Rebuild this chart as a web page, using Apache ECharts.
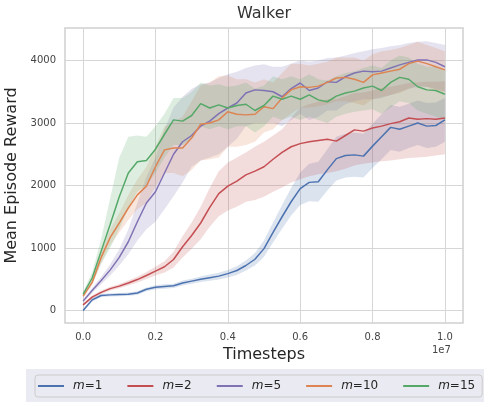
<!DOCTYPE html>
<html>
<head>
<meta charset="utf-8">
<script src="https://cdn.jsdelivr.net/npm/echarts@6/dist/echarts.min.js"></script>
<style>
  html, body { margin: 0; padding: 0; background: #fff; }
  #chart { width: 484px; height: 402px; }
</style>
</head>
<body>
<div id="chart"></div>
<script>
// x positions in units of 1e6 timesteps
const xSteps = [0,0.25,0.5,0.75,1,1.25,1.5,1.75,2,2.25,2.5,2.75,3,3.25,3.5,3.75,4,4.25,4.5,4.75,5,5.25,5.5,5.75,6,6.25,6.5,6.75,7,7.25,7.5,7.75,8,8.25,8.5,8.75,9,9.25,9.5,9.75,10];

// m=1
const m1Mean = [0,170,240,250,255,260,280,340,373,385,395,440,470,500,525,550,590,640,720,820,990,1250,1500,1740,1950,2050,2060,2250,2430,2480,2490,2470,2630,2780,2930,2900,2950,3000,2950,2960,3050];
const m1Low  = [-20,140,215,225,230,235,250,310,340,350,360,400,430,455,475,495,530,570,640,720,860,1090,1310,1520,1690,1750,1740,1920,2080,2130,2140,2130,2280,2420,2570,2540,2600,2650,2600,2620,2700];
const m1High = [20,200,265,275,280,290,310,370,405,420,430,480,510,545,575,605,650,710,800,920,1120,1410,1690,1960,2210,2350,2380,2580,2780,2830,2850,2830,2990,3140,3290,3260,3310,3360,3320,3330,3400];

// m=2
const m2Mean = [90,215,290,350,390,440,495,560,630,700,816,1020,1200,1400,1650,1870,1990,2070,2170,2230,2300,2420,2530,2620,2670,2700,2720,2740,2710,2800,2890,2870,2920,2950,2990,3020,3080,3060,3070,3060,3080];
const m2Low  = [70,190,260,320,355,400,450,505,560,610,690,850,990,1140,1340,1510,1600,1660,1740,1770,1820,1900,1970,2050,2100,2150,2180,2200,2230,2270,2320,2350,2370,2390,2400,2420,2440,2450,2460,2480,2500];
const m2High = [110,240,320,380,425,480,540,615,700,790,940,1190,1410,1660,1960,2230,2370,2450,2530,2620,2700,2800,2900,3080,3250,3300,3340,3380,3380,3430,3480,3490,3520,3560,3580,3610,3640,3650,3660,3660,3670];

// m=5
const m5Mean = [150,320,480,650,850,1100,1420,1720,1900,2200,2500,2700,2800,2950,3030,3150,3240,3320,3480,3530,3520,3500,3420,3550,3640,3520,3560,3660,3650,3740,3800,3830,3820,3830,3880,3930,3970,4010,4010,3970,3900];
const m5Low  = [120,280,420,560,720,900,1120,1300,1420,1620,1830,2050,2300,2400,2450,2500,2620,2750,2950,3000,3000,3000,2950,3050,3150,3050,3100,3200,3200,3300,3350,3380,3380,3400,3450,3500,3550,3580,3580,3550,3500];
const m5High = [180,360,540,740,980,1300,1720,2140,2450,2900,3250,3420,3550,3620,3650,3720,3780,3820,3880,3920,3940,3900,3900,3950,4000,3980,4000,4040,4050,4080,4120,4150,4180,4200,4230,4250,4280,4300,4310,4280,4250];

// m=10
const m10Mean = [230,450,850,1170,1400,1640,1850,1990,2300,2570,2600,2600,2760,2980,3000,3050,3180,3140,3130,3140,3260,3230,3400,3530,3580,3570,3590,3650,3720,3730,3700,3650,3770,3800,3830,3860,3950,3990,3950,3900,3850];
const m10Low  = [200,400,760,1050,1250,1450,1620,1720,1980,2200,2200,2150,2250,2400,2420,2450,2620,2620,2650,2700,2850,2900,3050,3150,3250,3250,3270,3300,3350,3350,3320,3280,3380,3420,3450,3480,3550,3600,3580,3530,3500];
const m10High = [260,500,940,1300,1560,1850,2100,2300,2620,2950,3020,3100,3350,3600,3650,3750,3760,3700,3700,3650,3700,3650,3800,3950,3950,3920,3950,3980,4050,4050,4050,4000,4100,4150,4170,4200,4250,4300,4250,4200,4150];

// m=15
const m15Mean = [260,520,950,1380,1820,2200,2380,2400,2580,2820,3050,3030,3120,3310,3240,3290,3240,3280,3300,3200,3280,3430,3380,3430,3380,3450,3370,3340,3430,3480,3510,3560,3590,3520,3650,3730,3700,3580,3530,3520,3460];
const m15Low  = [220,430,750,1000,1300,1650,1900,2000,2200,2450,2650,2650,2750,2950,2900,2950,2900,2950,2950,2850,2950,3100,3050,3100,3050,3100,3050,3000,3100,3150,3180,3200,3220,3150,3250,3350,3320,3200,3150,3100,3050];
const m15High = [300,610,1150,1800,2450,2780,2800,2780,2950,3150,3400,3400,3500,3650,3600,3620,3580,3600,3650,3550,3600,3750,3700,3750,3700,3780,3700,3680,3750,3800,3830,3880,3920,3880,4000,4080,4050,3950,3900,3900,3850];

const seriesNames = ['m=1', 'm=2', 'm=5', 'm=10', 'm=15'];
const seriesColors = ['#4C72B0', '#C44E52', '#8172B3', '#DD8452', '#55A868'];
const means = [m1Mean, m2Mean, m5Mean, m10Mean, m15Mean];
const lows = [m1Low, m2Low, m5Low, m10Low, m15Low];
const highs = [m1High, m2High, m5High, m10High, m15High];

const chart = echarts.init(document.getElementById('chart'));
const FONT = 'DejaVu Sans';

function hexToRgba(hex, a) {
  const n = parseInt(hex.slice(1), 16);
  return 'rgba(' + (n >> 16) + ',' + ((n >> 8) & 255) + ',' + (n & 255) + ',' + a + ')';
}

// shaded band: one polygon per series, drawn through the axes
function bandSeries(i) {
  const lo = lows[i], hi = highs[i];
  return {
    type: 'custom',
    name: seriesNames[i] + ' band',
    silent: true,
    z: 1,
    data: xSteps.map((x, k) => [x * 1e6, lo[k], hi[k]]),
    encode: { x: 0, y: [1, 2] },
    renderItem: function (params, api) {
      if (params.dataIndex !== 0) return;
      const pts = [];
      for (let k = 0; k < xSteps.length; k++) pts.push(api.coord([xSteps[k] * 1e6, hi[k]]));
      for (let k = xSteps.length - 1; k >= 0; k--) pts.push(api.coord([xSteps[k] * 1e6, lo[k]]));
      return {
        type: 'polygon',
        shape: { points: pts },
        style: { fill: hexToRgba(seriesColors[i], 0.2), stroke: null }
      };
    }
  };
}

function lineSeries(i) {
  return {
    type: 'line',
    name: seriesNames[i],
    data: xSteps.map((x, k) => [x * 1e6, means[i][k]]),
    symbol: 'none',
    z: 3,
    color: seriesColors[i],
    lineStyle: { width: 1.5, color: seriesColors[i] }
  };
}

const series = [];
for (let i = 0; i < 5; i++) series.push(bandSeries(i));
for (let i = 0; i < 5; i++) series.push(lineSeries(i));

const HIDE = 'rgba(0,0,0,0)';
const GRID = '#d6d6d6';

chart.setOption({
  animation: false,
  backgroundColor: '#fff',
  textStyle: { fontFamily: FONT },
  title: [
    {
      text: 'Walker', left: 264, top: 6, textAlign: 'center', padding: 0,
      textStyle: { fontFamily: FONT, fontSize: 16, fontWeight: 'normal', color: '#333' }
    },
    {
      text: '1e7', left: 432, top: 345, padding: 0,
      textStyle: { fontFamily: FONT, fontSize: 10, fontWeight: 'normal', color: '#444' }
    }
  ],
  graphic: [
    { type: 'rect', left: 26, top: 369, shape: { width: 458, height: 33 }, style: { fill: '#EAEAF2' }, z: -1 }
  ],
  legend: {
    data: seriesNames,
    left: 35, top: 375,
    padding: [5, 7, 5, 3],
    itemGap: 25, itemWidth: 26, itemHeight: 2,
    icon: 'rect',
    backgroundColor: '#EAEAF2',
    borderColor: '#cccccc', borderWidth: 1, borderRadius: 3,
    formatter: name => '{it|m}{n|' + name.slice(1) + '}',
    textStyle: {
      fontFamily: FONT, fontSize: 12, color: '#262626',
      rich: {
        it: { fontFamily: FONT, fontSize: 12, fontStyle: 'italic', color: '#262626', padding: [0, 0, 0, 4] },
        n: { fontFamily: FONT, fontSize: 12, color: '#262626' }
      }
    }
  },
  grid: {
    left: 65, right: 21, top: 28, bottom: 79,
    containLabel: false, outerBoundsMode: 'none',
    show: true, borderColor: '#d0d0d0', borderWidth: 1.5, backgroundColor: '#fff'
  },
  xAxis: {
    type: 'value',
    min: -500000, max: 10500000, interval: 500000,
    name: 'Timesteps', nameLocation: 'middle', nameGap: 22,
    nameTextStyle: { fontFamily: FONT, fontSize: 16, color: '#262626' },
    axisLine: { show: false }, axisTick: { show: false },
    axisLabel: {
      margin: 9, fontFamily: FONT, fontSize: 10, color: '#444',
      formatter: v => (v >= 0 && v <= 1e7 && Math.abs(v % 2000000) < 1) ? (v / 1e7).toFixed(1) : ''
    },
    splitLine: { show: true, lineStyle: { width: 1, color: [HIDE, GRID, HIDE, HIDE] } }
  },
  yAxis: {
    type: 'value',
    min: -200, max: 4520, interval: 200,
    name: 'Mean Episode Reward', nameLocation: 'middle', nameGap: 37,
    nameTextStyle: { fontFamily: FONT, fontSize: 16, color: '#262626' },
    axisLine: { show: false }, axisTick: { show: false },
    axisLabel: {
      margin: 9, fontFamily: FONT, fontSize: 10, color: '#444',
      formatter: v => (v >= 0 && Math.abs(v % 1000) < 1) ? String(v) : ''
    },
    splitLine: { show: true, lineStyle: { width: 1, color: [HIDE, GRID, HIDE, HIDE, HIDE] } }
  },
  series: series
});
</script>
</body>
</html>
